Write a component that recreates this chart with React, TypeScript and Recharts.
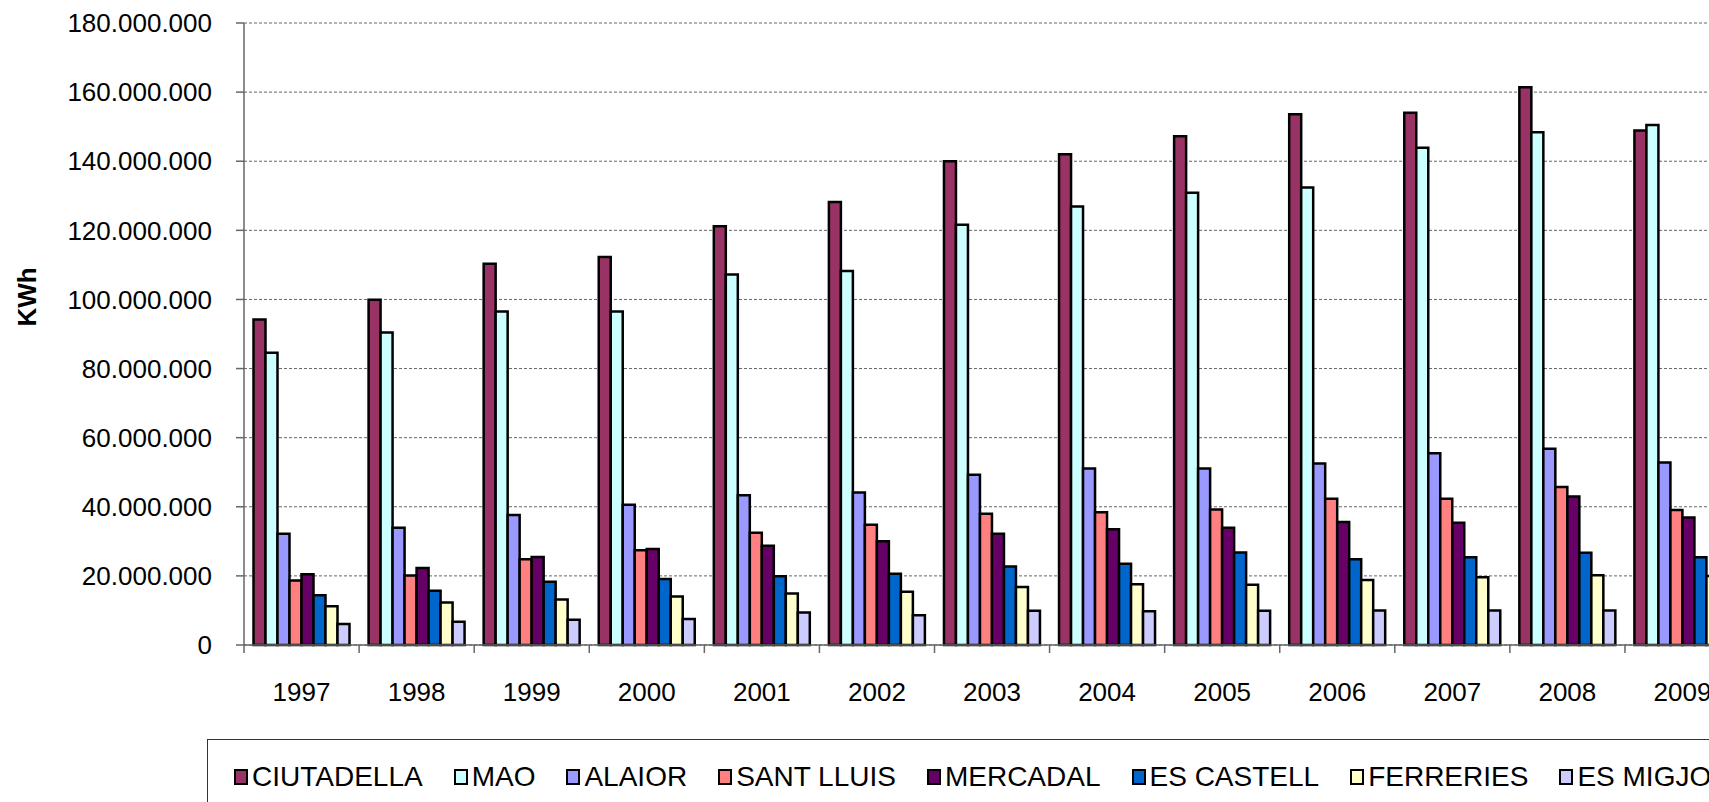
import { BarChart, Bar, XAxis, YAxis, CartesianGrid } from 'recharts';

const years = ['1997', '1998', '1999', '2000', '2001', '2002', '2003', '2004', '2005', '2006', '2007', '2008', '2009'];

// consumption in millions of KWh
const ciutadella = [94.2, 99.9, 110.3, 112.3, 121.2, 128.2, 140.0, 142.0, 147.2, 153.6, 154.0, 161.4, 148.9];
const mao = [84.6, 90.4, 96.5, 96.5, 107.2, 108.2, 121.6, 126.9, 130.9, 132.4, 143.9, 148.4, 150.5];
const alaior = [32.2, 33.9, 37.6, 40.6, 43.3, 44.1, 49.3, 51.1, 51.1, 52.5, 55.5, 56.8, 52.8];
const santLluis = [18.7, 20.1, 24.8, 27.4, 32.5, 34.8, 38.0, 38.4, 39.2, 42.3, 42.3, 45.7, 39.1];
const mercadal = [20.5, 22.3, 25.5, 27.8, 28.7, 30.0, 32.2, 33.5, 33.9, 35.6, 35.4, 43.0, 36.9];
const esCastell = [14.4, 15.7, 18.3, 19.1, 19.9, 20.6, 22.7, 23.5, 26.8, 24.8, 25.4, 26.7, 25.4];
const ferreries = [11.2, 12.3, 13.2, 14.0, 14.9, 15.4, 16.8, 17.6, 17.4, 18.8, 19.6, 20.2, 20.0];
const esMigjorn = [6.1, 6.7, 7.3, 7.5, 9.4, 8.6, 9.9, 9.8, 9.9, 10.0, 10.0, 10.0, 10.0];

const yTicks = [0, 20000000, 40000000, 60000000, 80000000, 100000000, 120000000, 140000000, 160000000, 180000000];

const series = [
  { key: 'CIUTADELLA', values: ciutadella, color: '#993366' },
  { key: 'MAO', values: mao, color: '#CCFFFF' },
  { key: 'ALAIOR', values: alaior, color: '#9999FF' },
  { key: 'SANT LLUIS', values: santLluis, color: '#FF8080' },
  { key: 'MERCADAL', values: mercadal, color: '#660066' },
  { key: 'ES CASTELL', values: esCastell, color: '#0066CC' },
  { key: 'FERRERIES', values: ferreries, color: '#FFFFCC' },
  { key: 'ES MIGJORN GRAN', values: esMigjorn, color: '#CCCCFF' },
];

const data = years.map((year, i) => {
  const row: Record<string, string | number> = { year };
  series.forEach(s => {
    row[s.key] = Math.round(s.values[i] * 1000000);
  });
  return row;
});

const FONT = '"Liberation Sans", Arial, sans-serif';

const fmt = (v: number) => String(v).replace(/\B(?=(\d{3})+(?!\d))/g, '.');

function AxisTitle(props: any) {
  const vb = props.viewBox || { x: 0, y: 0, width: 0, height: 0 };
  const x = vb.x + 27;
  const y = vb.y + vb.height / 2 - 37;
  return (
    <text
      x={x}
      y={y}
      transform={`rotate(-90, ${x}, ${y})`}
      textAnchor="middle"
      dominantBaseline="central"
      fontFamily={FONT}
      fontSize={26}
      fontWeight="bold"
      fill="#000"
    >
      KWh
    </text>
  );
}

export default function App() {
  return (
    <div
      style={{
        position: 'fixed',
        left: 0,
        top: 0,
        width: 1709,
        height: 802,
        overflow: 'hidden',
        background: '#fff',
      }}
    >
      <BarChart
        width={1760}
        height={802}
        data={data}
        margin={{ top: 23, right: 20, bottom: 97, left: 0 }}
        barCategoryGap={9.5}
        barGap={0}
      >
        <CartesianGrid vertical={false} stroke="#666" strokeDasharray="3 2" />
        <XAxis
          dataKey="year"
          height={60}
          interval={0}
          stroke="#666"
          strokeWidth={1.5}
          tickSize={8}
          tickMargin={30}
          tickLine={{ transform: 'translate(-57.5, 0)', stroke: '#666' }}
          tick={{ fill: '#000', fontSize: 26, fontFamily: FONT }}
        />
        <YAxis
          width={244}
          domain={[0, 180000000]}
          ticks={yTicks}
          interval={0}
          stroke="#666"
          strokeWidth={1.5}
          tickSize={8}
          tickMargin={24}
          tickFormatter={fmt}
          tick={{ fill: '#000', fontSize: 26, fontFamily: FONT }}
          label={{ value: 'KWh', content: AxisTitle }}
        />
        {series.map(s => (
          <Bar
            key={s.key}
            dataKey={s.key}
            fill={s.color}
            stroke="#000"
            strokeWidth={2.5}
            isAnimationActive={false}
          />
        ))}
      </BarChart>
      <div
        style={{
          position: 'absolute',
          left: 207,
          top: 739,
          width: 1650,
          height: 80,
          border: '1.5px solid #333',
          boxSizing: 'border-box',
          display: 'flex',
          alignItems: 'center',
          paddingLeft: 26,
          paddingBottom: 4,
          gap: 31,
          fontFamily: FONT,
          fontSize: 28,
          color: '#000',
          whiteSpace: 'nowrap',
        }}
      >
        {series.map(s => (
          <div key={s.key} style={{ display: 'flex', alignItems: 'center' }}>
            <span
              style={{
                display: 'inline-block',
                width: 10,
                height: 12,
                background: s.color,
                border: '2px solid #000',
                marginRight: 4,
              }}
            />
            <span>{s.key}</span>
          </div>
        ))}
      </div>
    </div>
  );
}
